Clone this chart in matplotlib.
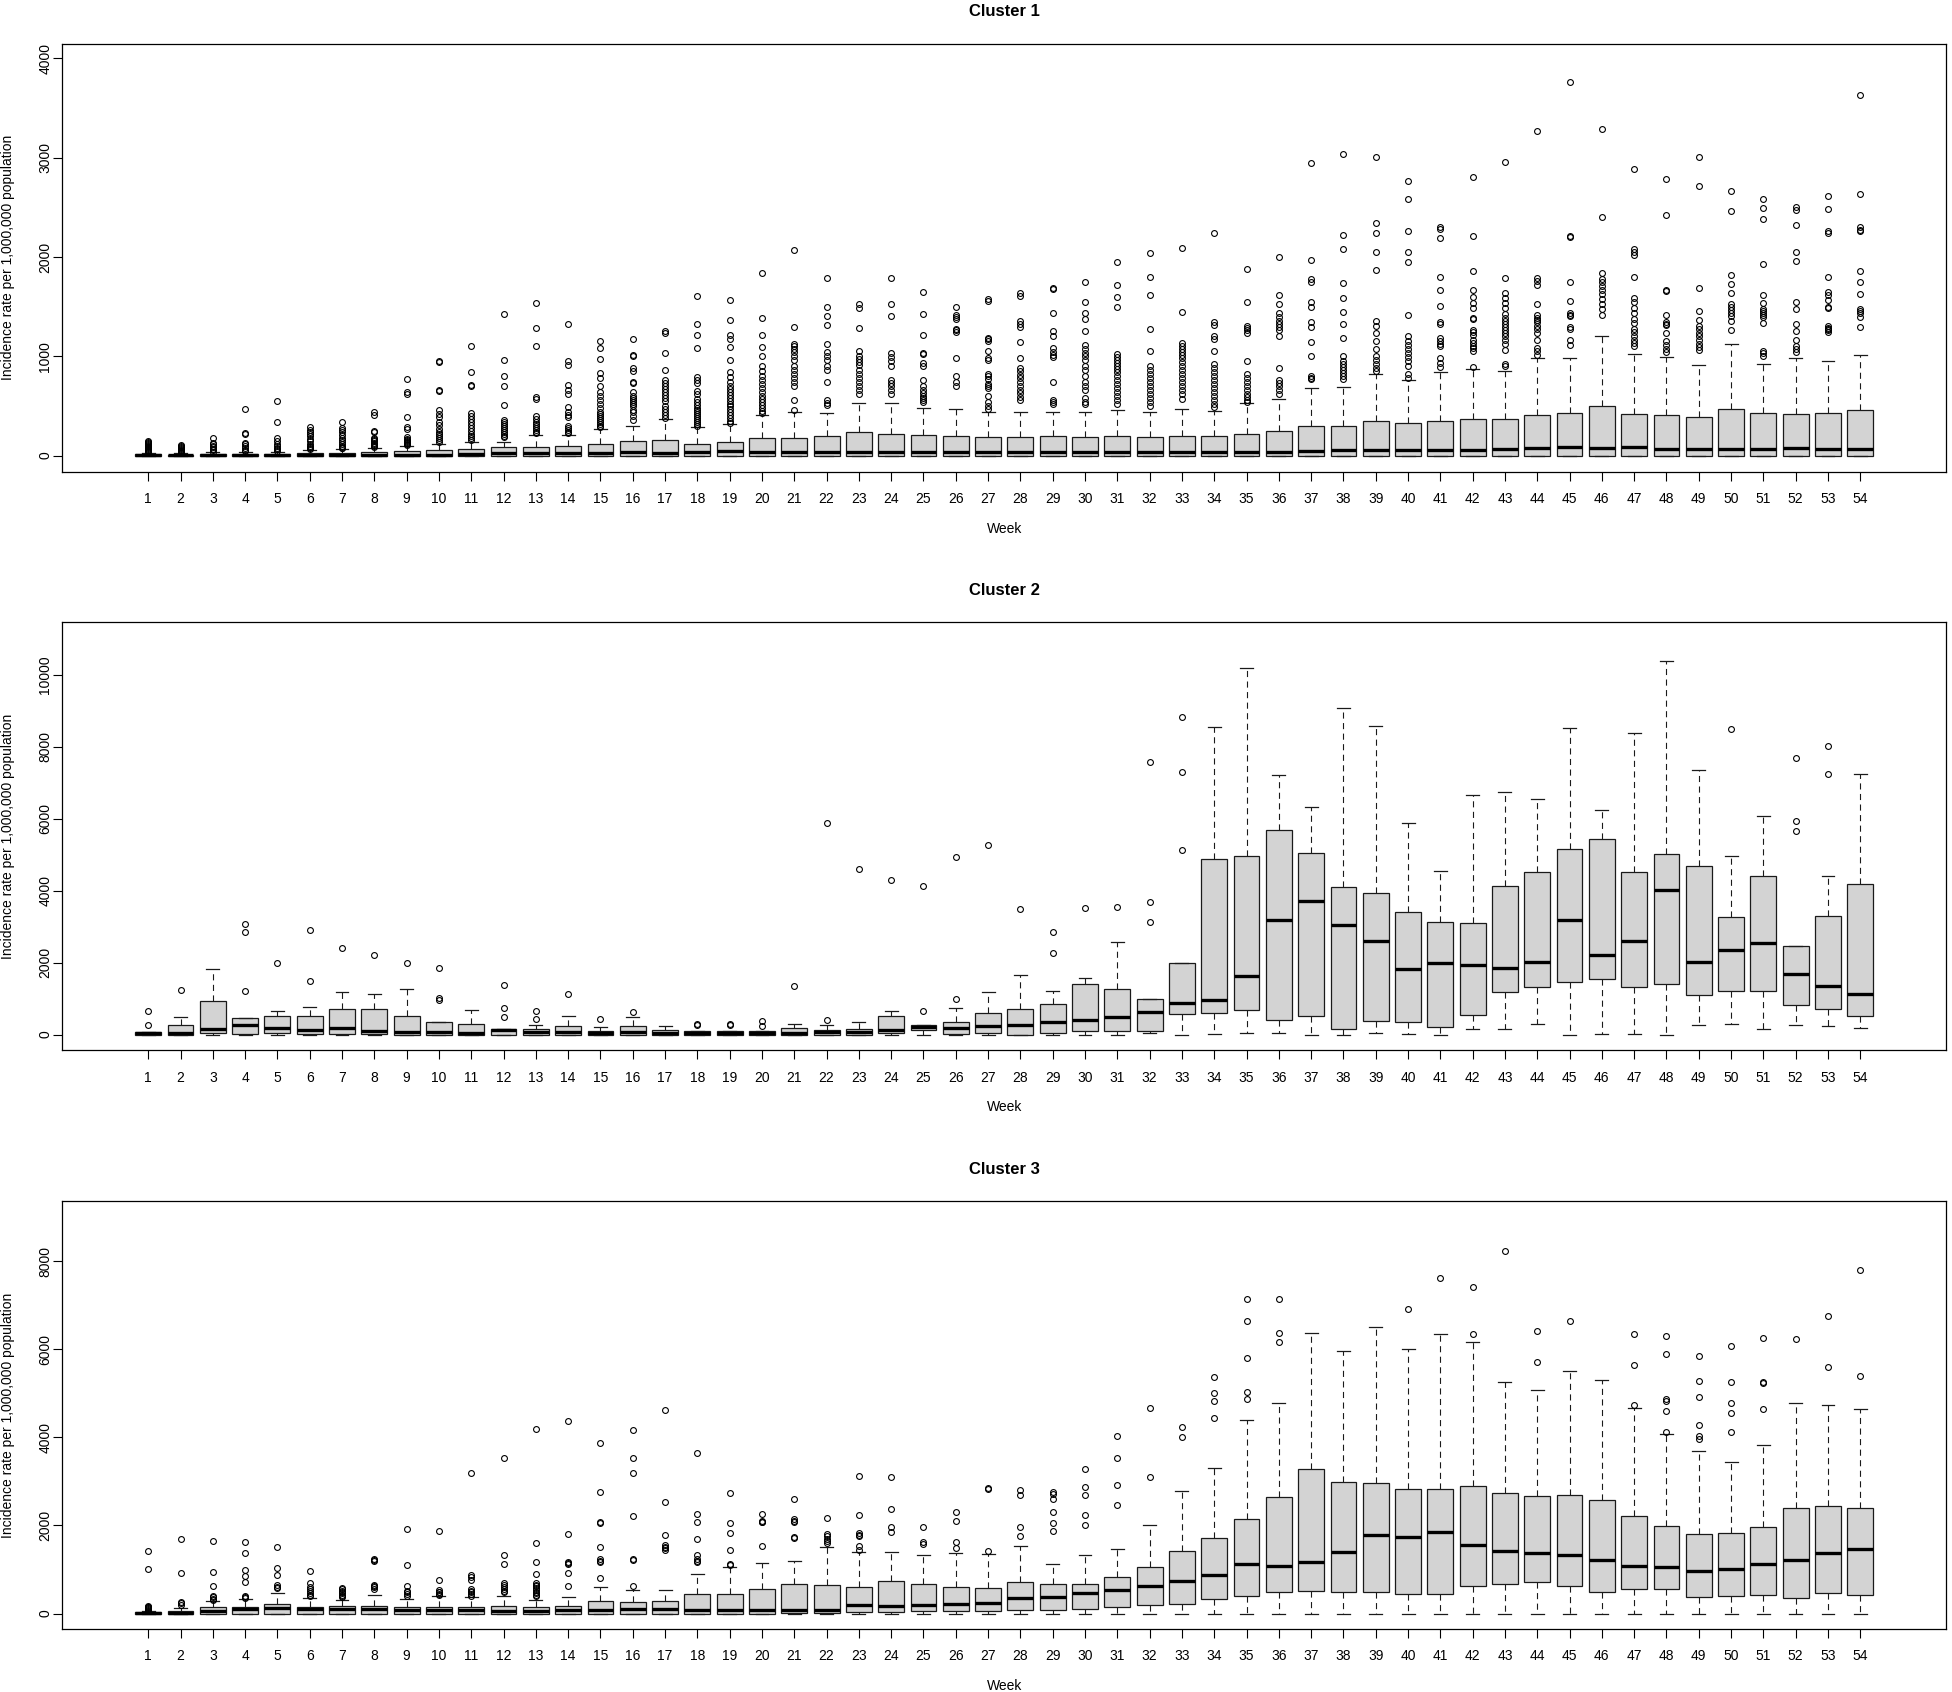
import numpy as np
import matplotlib.pyplot as plt

plt.rcParams['font.family'] = ['Liberation Sans', 'DejaVu Sans']

weeks = list(range(1, 55))
week_labels = [str(w) for w in weeks]

# ---------------- Cluster 1 ----------------
c1_whislo = [0] * 54
c1_q1 = [0] * 54
c1_med = [3, 3, 5, 5, 5, 8, 8, 8, 5, 10, 15, 25, 25, 25, 30, 35, 30,
          40, 45, 40, 40, 40, 40, 40, 40, 40, 40, 40, 40, 40, 40, 40, 40, 40, 40, 40, 50,
          60, 60, 60, 60, 60, 65, 80, 90, 80, 90, 70, 70, 70, 70, 80, 70, 70]
c1_q3 = [12, 10, 15, 20, 20, 25, 30, 35, 45, 52, 62, 85, 87, 100, 115, 146, 156,
         121, 139, 173, 180, 198, 236, 222, 205, 200, 191, 184, 194, 190, 200, 190, 200, 200, 219, 246, 295,
         302, 350, 333, 350, 364, 364, 406, 427, 503, 420, 409, 385, 472, 427, 416, 434, 461]
c1_whishi = [30, 25, 35, 40, 40, 59, 62, 80, 94, 121, 139, 142, 205, 210, 270, 295, 364,
             288, 323, 409, 444, 427, 531, 531, 479, 468, 440, 444, 437, 444, 461, 437, 468, 451, 531, 572, 676,
             694, 826, 760, 843, 874, 853, 982, 982, 1204, 1020, 989, 912, 1127, 926, 982, 957, 1016]
c1_fliers = [
    [40, 50, 60, 70, 80, 90, 100, 110, 120, 130, 140, 150],
    [30, 40, 50, 60, 70, 80, 90, 100, 110],
    [40, 55, 70, 85, 100, 115, 130, 180],
    [50, 60, 80, 100, 120, 130, 215, 230, 465],
    [50, 65, 80, 100, 120, 150, 175, 340, 550],
    [70, 80, 90, 100, 120, 150, 170, 200, 220, 240, 260, 285],
    [75, 80, 90, 100, 120, 140, 160, 180, 210, 240, 260, 280, 335],
    [90, 100, 110, 120, 130, 150, 160, 170, 180, 240, 250, 410, 440],
    [110, 120, 130, 140, 150, 160, 170, 190, 270, 290, 390, 625, 640, 775],
    [140, 160, 180, 200, 220, 240, 270, 310, 340, 390, 420, 460, 650, 660, 945, 955],
    [160, 180, 200, 220, 250, 280, 310, 340, 370, 400, 430, 700, 710, 840, 1100],
    [190, 200, 220, 240, 260, 280, 300, 320, 340, 360, 510, 700, 800, 960, 1430],
    [230, 240, 260, 280, 300, 320, 340, 370, 400, 570, 590, 1100, 1290, 1540],
    [230, 240, 260, 280, 300, 390, 410, 440, 490, 620, 660, 710, 910, 950, 1325],
    [290, 300, 320, 340, 360, 380, 400, 420, 440, 480, 520, 560, 600, 640, 700, 780, 830, 970, 1080, 1150],
    [360, 400, 440, 460, 500, 520, 540, 560, 580, 600, 640, 730, 740, 850, 880, 1000, 1010, 1170],
    [380, 410, 440, 470, 500, 550, 580, 610, 640, 670, 700, 730, 760, 860, 1030, 1230, 1250],
    [300, 320, 340, 360, 380, 400, 420, 440, 460, 480, 510, 540, 570, 620, 650, 730, 760, 790, 1080, 1210, 1330, 1610],
    [330, 350, 380, 410, 440, 470, 500, 520, 550, 580, 610, 640, 670, 700, 740, 790, 840, 960, 1090, 1170, 1210, 1370, 1570],
    [430, 450, 480, 510, 540, 570, 600, 640, 680, 720, 760, 800, 850, 900, 1000, 1090, 1210, 1390, 1840],
    [460, 555, 700, 740, 780, 820, 860, 900, 960, 1000, 1040, 1070, 1100, 1120, 1300, 2070],
    [510, 530, 560, 740, 860, 900, 960, 1000, 1040, 1120, 1320, 1410, 1500, 1790],
    [620, 660, 700, 740, 780, 820, 860, 910, 940, 970, 1000, 1050, 1290, 1490, 1530],
    [620, 660, 700, 730, 760, 900, 950, 990, 1030, 1410, 1530, 1790],
    [540, 560, 580, 600, 630, 660, 700, 760, 900, 930, 1020, 1030, 1210, 1430, 1650],
    [700, 740, 800, 980, 1240, 1260, 1280, 1380, 1400, 1420, 1500],
    [470, 500, 540, 600, 680, 700, 720, 770, 800, 820, 960, 980, 1050, 1150, 1170, 1180, 1560, 1580],
    [560, 590, 630, 660, 700, 740, 780, 810, 850, 880, 980, 1140, 1300, 1330, 1360, 1610, 1640],
    [520, 540, 560, 740, 990, 1010, 1040, 1080, 1200, 1250, 1440, 1680, 1690],
    [520, 540, 580, 660, 700, 740, 800, 860, 900, 960, 1000, 1030, 1070, 1110, 1250, 1380, 1440, 1550, 1750],
    [520, 560, 600, 640, 680, 720, 760, 800, 840, 870, 900, 930, 960, 990, 1020, 1500, 1600, 1720, 1950],
    [500, 540, 580, 620, 660, 700, 740, 780, 820, 860, 900, 1050, 1280, 1620, 1800, 2040],
    [570, 620, 660, 700, 740, 780, 820, 860, 900, 940, 980, 1010, 1040, 1070, 1100, 1130, 1450, 2090],
    [490, 520, 560, 600, 640, 680, 720, 760, 800, 840, 880, 920, 1050, 1170, 1200, 1320, 1350, 2240],
    [540, 560, 590, 620, 660, 700, 740, 780, 820, 950, 1230, 1260, 1290, 1310, 1550, 1880],
    [620, 660, 700, 730, 760, 880, 1200, 1260, 1300, 1330, 1360, 1400, 1440, 1530, 1620, 2000],
    [770, 780, 800, 1000, 1140, 1300, 1350, 1500, 1550, 1750, 1780, 1970, 2950],
    [770, 800, 830, 860, 890, 920, 950, 1000, 1180, 1330, 1450, 1590, 1740, 2080, 2220, 3040],
    [850, 880, 920, 960, 1000, 1070, 1150, 1230, 1310, 1360, 1870, 2050, 2240, 2340, 3010],
    [780, 820, 900, 950, 990, 1030, 1070, 1110, 1150, 1200, 1420, 1950, 2050, 2260, 2580, 2770],
    [890, 930, 980, 1100, 1120, 1150, 1180, 1330, 1350, 1510, 1670, 1800, 2190, 2280, 2300],
    [890, 1050, 1080, 1100, 1130, 1160, 1210, 1240, 1260, 1380, 1390, 1490, 1540, 1600, 1670, 1860, 2210, 2810],
    [900, 920, 1060, 1120, 1160, 1200, 1230, 1260, 1300, 1330, 1360, 1390, 1430, 1490, 1540, 1590, 1640, 1790, 2960],
    [1010, 1050, 1080, 1160, 1230, 1270, 1310, 1350, 1370, 1390, 1420, 1530, 1720, 1760, 1790, 3270],
    [1110, 1160, 1280, 1300, 1410, 1420, 1440, 1560, 1750, 2200, 2210, 3760],
    [1420, 1480, 1530, 1580, 1630, 1670, 1710, 1750, 1780, 1840, 2400, 3290],
    [1100, 1130, 1160, 1200, 1240, 1270, 1340, 1380, 1440, 1490, 1550, 1590, 1800, 2020, 2050, 2080, 2890],
    [1040, 1070, 1110, 1150, 1230, 1320, 1330, 1350, 1420, 1660, 1670, 2420, 2790],
    [1060, 1090, 1120, 1160, 1200, 1230, 1270, 1310, 1370, 1460, 1690, 2710, 3010],
    [1260, 1360, 1410, 1440, 1470, 1500, 1530, 1640, 1730, 1820, 2460, 2660],
    [1000, 1030, 1050, 1340, 1400, 1420, 1440, 1460, 1480, 1540, 1620, 1930, 2380, 2490, 2580],
    [1040, 1070, 1100, 1160, 1250, 1330, 1480, 1550, 1960, 2050, 2320, 2470, 2500],
    [1240, 1260, 1280, 1290, 1310, 1490, 1500, 1570, 1620, 1650, 1800, 2240, 2260, 2480, 2610],
    [1300, 1400, 1440, 1460, 1480, 1630, 1750, 1860, 2260, 2270, 2300, 2630, 3630],
]

# ---------------- Cluster 2 ----------------
c2_whislo = [0, 0, 0, 0, 0, 0, 0, 0, 0, 0, 0, 0, 0, 0, 0, 0, 0,
             0, 0, 0, 0, 0, 0, 0, 0, 0, 0, 0, 0, 0, 0, 50, 0, 19, 50, 30, 0,
             0, 30, 20, 0, 143, 160, 306, 0, 20, 20, 0, 277, 296, 153, 258, 249, 182]
c2_q1 = [0, 0, 50, 20, 40, 20, 10, 10, 0, 0, 0, 0, 0, 0, 0, 0, 0,
         0, 0, 0, 0, 0, 0, 40, 140, 10, 40, 0, 50, 110, 110, 90, 574, 612, 690, 401, 510,
         143, 380, 350, 210, 545, 1176, 1310, 1463, 1530, 1330, 1410, 1109, 1205, 1210, 832, 707, 526]
c2_med = [30, 30, 143, 277, 191, 134, 191, 96, 67, 60, 50, 124, 60, 60, 30, 60, 50,
          40, 40, 40, 57, 60, 60, 124, 220, 191, 249, 258, 344, 411, 497, 621, 870, 966, 1625, 3174, 3719,
          3040, 2600, 1807, 1998, 1922, 1836, 2027, 3174, 2199, 2591, 4006, 2008, 2342, 2543, 1673, 1358, 1128]
c2_q3 = [67, 268, 937, 449, 526, 526, 717, 700, 526, 344, 296, 163, 160, 239, 96, 230, 115,
         90, 90, 100, 170, 140, 150, 507, 268, 344, 612, 717, 860, 1405, 1262, 975, 1988, 4866, 4952, 5679, 5048,
         4092, 3920, 3403, 3117, 3090, 4120, 4512, 5162, 5430, 4520, 5019, 4684, 3260, 4398, 2457, 3289, 4187]
c2_whishi = [70, 488, 1826, 460, 660, 765, 1185, 1128, 1271, 350, 688, 163, 268, 516, 210, 488, 229,
             100, 100, 100, 306, 277, 344, 650, 268, 746, 1195, 1663, 1214, 1577, 2581, 975, 1988, 8547, 10181, 7218, 6329,
             9063, 8566, 5879, 4531, 6654, 6730, 6539, 8508, 6233, 8384, 10363, 7352, 4962, 6080, 2457, 4398, 7246]
c2_fliers = [
    [270, 650], [1240], [], [1214, 2858, 3069], [1979], [1501, 2906], [2409], [2199], [1998],
    [956, 1004, 1855], [], [488, 736, 1386], [430, 660], [1138], [440], [621], [],
    [268, 306], [270, 290], [229, 382], [1338], [411, 5889], [4608], [4302], [641, 4139],
    [994, 4923], [5258], [3489], [2266, 2849], [3518], [3547], [3117, 3690, 7581],
    [5115, 7304, 8814], [], [], [], [],
    [], [], [], [], [], [], [], [], [], [], [], [], [8489], [], [5660, 5918, 7686], [7237, 8021], [],
]

# ---------------- Cluster 3 ----------------
c3_whislo = [0] * 54
c3_q1 = [0, 0, 0, 0, 0, 0, 0, 0, 0, 0, 0, 0, 0, 0, 0, 0, 0,
         0, 0, 0, 10, 20, 40, 40, 60, 60, 50, 80, 80, 100, 150, 200, 220, 330, 400, 500, 510,
         485, 500, 450, 450, 616, 680, 720, 620, 490, 550, 560, 385, 390, 430, 347, 460, 430]
c3_med = [10, 10, 50, 108, 116, 108, 100, 108, 80, 90, 80, 60, 70, 80, 80, 108, 100,
          77, 85, 77, 92, 92, 193, 169, 193, 216, 231, 347, 370, 462, 531, 616, 739, 878, 1117, 1070, 1163,
          1401, 1786, 1748, 1863, 1555, 1417, 1386, 1324, 1209, 1086, 1047, 978, 1016, 1117, 1209, 1386, 1463]
c3_q3 = [30, 60, 146, 160, 216, 150, 170, 180, 150, 160, 160, 180, 150, 180, 285, 270, 280,
         454, 454, 547, 670, 647, 608, 747, 670, 608, 578, 716, 680, 680, 824, 1047, 1424, 1709, 2156, 2649, 3288,
         2995, 2960, 2834, 2830, 2888, 2726, 2670, 2695, 2572, 2210, 1987, 1802, 1820, 1971, 2402, 2441, 2387]
c3_whishi = [50, 131, 285, 323, 477, 354, 308, 431, 323, 400, 385, 408, 316, 385, 600, 539, 539,
             909, 1055, 1147, 1201, 1517, 1401, 1401, 1340, 1386, 1348, 1540, 1117, 1340, 1471, 2017, 2780, 3311, 4397, 4782, 6368,
             5960, 6507, 6014, 6353, 6160, 5259, 5074, 5506, 5305, 4658, 4073, 3696, 3450, 3835, 4782, 4728, 4635]
c3_fliers = [
    [60, 80, 100, 120, 140, 160, 180, 1010, 1420],
    [200, 230, 260, 920, 1700],
    [310, 340, 370, 400, 620, 950, 1650],
    [350, 370, 400, 720, 860, 1000, 1370, 1620],
    [570, 610, 650, 870, 1040, 1500],
    [400, 430, 470, 510, 560, 610, 700, 960],
    [370, 400, 430, 460, 490, 520, 550, 580],
    [560, 600, 630, 660, 1200, 1220, 1250],
    [400, 440, 480, 520, 630, 1100, 1930],
    [420, 450, 480, 500, 530, 770, 1870],
    [400, 440, 480, 520, 560, 770, 820, 880, 3200],
    [480, 520, 560, 600, 650, 690, 1120, 1330, 3540],
    [400, 430, 460, 500, 540, 580, 620, 660, 700, 890, 1180, 1600, 4180],
    [620, 920, 1120, 1140, 1170, 1800, 4360],
    [810, 1180, 1200, 1230, 1500, 2050, 2080, 2750, 3880],
    [620, 1210, 1240, 2210, 3200, 3540, 4160],
    [1450, 1480, 1520, 1550, 1790, 2530, 4610],
    [1170, 1200, 1250, 1340, 1690, 2070, 2260, 3640],
    [1100, 1130, 1450, 1820, 2060, 2730],
    [1530, 2080, 2090, 2110, 2270],
    [1720, 1730, 2070, 2110, 2140, 2590],
    [1600, 1650, 1700, 1750, 1800, 2180],
    [1440, 1540, 1760, 1790, 1830, 2230, 3120],
    [1860, 1960, 2380, 3100],
    [1570, 1630, 1960],
    [1480, 1620, 2100, 2310],
    [1410, 2830, 2850],
    [1750, 1970, 2690, 2800],
    [1880, 2050, 2300, 2600, 2720, 2770],
    [2020, 2240, 2700, 2870, 3290],
    [2470, 2920, 3520, 4030],
    [3110, 4660],
    [4000, 4230],
    [4450, 4820, 5010, 5370],
    [4860, 5020, 5800, 6650, 7140],
    [6160, 6360, 7140],
    [],
    [], [], [6920], [7620], [6340, 7420], [8230], [5700, 6420], [6650], [],
    [4730, 5640, 6350],
    [4130, 4600, 4830, 4860, 5880, 6310],
    [3960, 4020, 4270, 4910, 5270, 5850],
    [4110, 4560, 4790, 5260, 6070],
    [4640, 5230, 5250, 6250],
    [6240],
    [5590, 6760],
    [5390, 7800],
]

titles = ['Cluster 1', 'Cluster 2', 'Cluster 3']
y_ticks = [[0, 1000, 2000, 3000, 4000],
           [0, 2000, 4000, 6000, 8000, 10000],
           [0, 2000, 4000, 6000, 8000]]
y_lims = [(-163, 4149), (-440, 11453), (-354, 9363)]


def make_stats(whislo, q1, med, q3, whishi, fliers):
    stats = []
    for i in range(len(weeks)):
        stats.append(dict(whislo=whislo[i], q1=q1[i], med=med[i], q3=q3[i],
                          whishi=whishi[i], fliers=fliers[i], label=week_labels[i]))
    return stats


all_stats = [
    make_stats(c1_whislo, c1_q1, c1_med, c1_q3, c1_whishi, c1_fliers),
    make_stats(c2_whislo, c2_q1, c2_med, c2_q3, c2_whishi, c2_fliers),
    make_stats(c3_whislo, c3_q1, c3_med, c3_q3, c3_whishi, c3_fliers),
]

fig = plt.figure(figsize=(19.52, 16.92), dpi=100)
W, H = 1952.0, 1692.0
ax_left, ax_w, ax_h = 62.5, 1883.5, 428.2
ax_bottoms = [471.8, 1050.4, 1629.2]

for k in range(3):
    ax = fig.add_axes([ax_left / W, 1 - ax_bottoms[k] / H, ax_w / W, ax_h / H])
    ax.bxp(all_stats[k], positions=weeks, widths=0.8, patch_artist=True,
           manage_ticks=False,
           boxprops=dict(facecolor='#d3d3d3', edgecolor='#1a1a1a', linewidth=0.9),
           medianprops=dict(color='black', linewidth=2.4, solid_capstyle='butt'),
           whiskerprops=dict(color='#1a1a1a', linewidth=0.8, linestyle=(0, (5.5, 4))),
           capprops=dict(color='#1a1a1a', linewidth=0.9),
           flierprops=dict(marker='o', markerfacecolor='none', markeredgecolor='black',
                           markersize=4.2, markeredgewidth=0.8, linestyle='none'))
    ax.set_xlim(-1.653, 56.653)
    ax.set_ylim(*y_lims[k])
    ax.set_xticks(weeks)
    ax.set_xticklabels(week_labels)
    ax.set_yticks(y_ticks[k])
    ax.set_yticklabels([str(v) for v in y_ticks[k]])
    ax.tick_params(axis='both', direction='out', length=6.2, width=0.8, labelsize=10)
    ax.tick_params(axis='x', pad=8.4)
    ax.tick_params(axis='y', pad=1.0)
    for lbl in ax.get_yticklabels():
        lbl.set_rotation(90)
        lbl.set_va('center')
    for sp in ax.spines.values():
        sp.set_linewidth(0.9)
    ax.set_title(titles[k], fontsize=12, fontweight='bold', pad=19.7)
    ax.set_xlabel('Week', fontsize=10)
    ax.xaxis.set_label_coords(0.5, -56.8 / ax_h)
    ax.xaxis.label.set_va('center')
    ax.set_ylabel('Incidence rate per 1,000,000 population', fontsize=10)
    ax.yaxis.set_label_coords(-54.5 / ax_w, 0.5)
    ax.yaxis.label.set_va('center')

fig.savefig('out.png', dpi=100)
